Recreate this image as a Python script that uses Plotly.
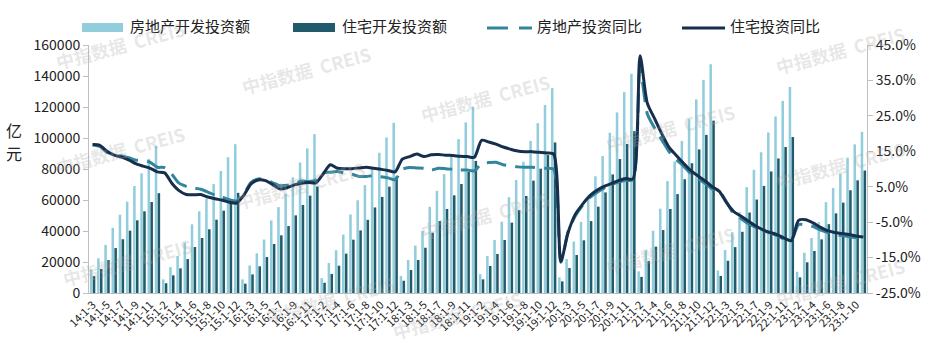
import plotly.graph_objects as go

# ---- data -------------------------------------------------------------
years = [14, 15, 16, 17, 18, 19, 20, 21, 22, 23]
first_month = {14: 3}          # 2014 series starts with Jan-Mar
last_month = {23: 11}          # 2023 series ends with Jan-Nov

categories = []
for yy in years:
    for m in range(first_month.get(yy, 2), last_month.get(yy, 12) + 1):
        categories.append(f"{yy}:1-{m}")

# 房地产开发投资额 (亿元), cumulative year-to-date
re_invest = [
    15300, 22400, 31000, 42100, 50500, 58900, 69000, 77200, 86500, 94900,
    8800, 16700, 23900, 32500, 44300, 52700, 60800, 70300, 78700, 87600, 96000,
    8800, 17800, 25600, 34500, 46800, 55400, 64200, 74600, 84200, 93300, 102500,
    9600, 19400, 27600, 37700, 50700, 59800, 69600, 80600, 90500, 100400, 109800,
    11000, 21300, 30600, 40000, 55600, 65900, 76700, 88700, 99300, 110100, 120200,
    12100, 23800, 34200, 46000, 61800, 72900, 84700, 98100, 109600, 121300, 132200,
    10100, 21900, 33200, 45900, 62000, 75300, 88400, 103400, 116500, 129600, 141400,
    14000, 27600, 40200, 54400, 72200, 84900, 98100, 112200, 124900, 137500, 147600,
    14500, 27800, 39200, 52100, 68300, 79500, 90800, 103600, 113900, 123900, 132900,
    13700, 26000, 35500, 45700, 58600, 67700, 76900, 87300, 95900, 104000,
]

# 住宅开发投资额 (亿元)
res_invest = [
    10900, 15500, 21300, 29000, 34700, 40200, 46900, 52700, 58700, 64400,
    6300, 11400, 15900, 21900, 29700, 35500, 41100, 47300, 53100, 58900, 64600,
    6000, 12000, 17200, 23200, 31600, 37200, 43200, 50100, 56800, 62800, 68700,
    6600, 12300, 17600, 25400, 34400, 40400, 47200, 55200, 62000, 68600, 75100,
    7900, 14800, 21300, 29200, 38900, 46400, 54200, 63000, 70300, 78100, 85200,
    8800, 17400, 25200, 34200, 45400, 53500, 62600, 72500, 80200, 89000, 97100,
    7500, 16100, 24500, 34000, 46400, 55700, 64900, 76500, 86400, 96100, 104400,
    10400, 20600, 29900, 40600, 54200, 63800, 73400, 83700, 92600, 102000, 111200,
    11000, 20800, 29600, 39500, 51900, 60300, 69100, 78400, 86800, 94200, 100600,
    10100, 19800, 27100, 34600, 44400, 51400, 58300, 66300, 72700, 79000,
]

# 房地产投资同比 (%)
re_yoy = [
    16.8, 16.4, 14.7, 14.1, 13.7, 13.2, 12.5, 12.4, 11.9, 10.5,
    10.4, 8.5, 6.0, 5.1, 4.6, 4.3, 3.5, 2.6, 2.0, 1.3, 1.0,
    3.0, 6.2, 7.2, 7.0, 6.1, 5.3, 5.4, 5.8, 6.6, 6.5, 6.9,
    8.9, 9.1, 9.3, 8.8, 8.5, 7.9, 7.9, 8.1, 7.8, 7.5, 7.0,
    9.9, 10.4, 10.3, 10.2, 9.7, 10.2, 10.1, 9.9, 9.7, 9.7, 9.5,
    11.6, 11.8, 11.9, 11.2, 10.9, 10.6, 10.5, 10.5, 10.3, 10.2, 9.9,
    -16.3, -7.7, -3.3, -0.3, 1.9, 3.4, 4.6, 5.6, 6.3, 6.8, 7.0,
    38.3, 25.6, 21.6, 18.3, 15.0, 12.7, 10.9, 8.8, 7.2, 6.0, 4.4,
    3.7, 0.7, -2.7, -4.0, -5.4, -6.4, -7.4, -8.0, -8.8, -9.8, -10.0,
    -5.7, -5.8, -6.2, -7.2, -7.9, -8.5, -8.8, -9.1, -9.3, -9.4,
]

# 住宅投资同比 (%)
res_yoy = [
    16.9, 16.7, 15.0, 13.9, 13.4, 12.6, 11.5, 10.8, 10.2, 9.2,
    8.9, 6.0, 3.9, 2.8, 2.7, 2.8, 2.1, 1.6, 1.2, 0.6, 0.4,
    2.6, 5.8, 6.9, 6.7, 5.6, 4.4, 4.7, 5.5, 6.0, 6.2, 6.1,
    8.6, 11.2, 10.2, 10.1, 10.1, 10.3, 10.5, 10.2, 9.9, 9.6, 9.2,
    12.8, 13.5, 14.2, 13.5, 14.0, 14.1, 13.9, 13.8, 13.6, 13.5, 13.3,
    18.1, 17.6, 17.0, 16.2, 15.6, 15.1, 14.9, 14.9, 14.7, 14.5, 14.2,
    -16.1, -8.0, -2.8, 0.0, 2.4, 4.0, 5.1, 5.9, 6.7, 7.3, 7.2,
    42.0, 28.6, 24.3, 20.0, 16.2, 13.9, 11.7, 9.6, 8.1, 6.7, 5.0,
    3.7, 0.5, -2.0, -3.3, -4.7, -6.0, -7.1, -7.9, -8.5, -9.5, -10.2,
    -4.5, -4.3, -5.2, -6.4, -7.4, -7.9, -8.2, -8.5, -8.9, -9.2,
]

series_names = ["房地产开发投资额", "住宅开发投资额", "房地产投资同比", "住宅投资同比"]
left_ticks = list(range(0, 160001, 20000))
right_ticks = [-25, -15, -5, 5, 15, 25, 35, 45]
right_labels = [f"{v:.1f}%" for v in right_ticks]

# ---- styling ----------------------------------------------------------
C_LIGHT = "#92CDDC"
C_DARK = "#215A6A"
C_DASH = "#31859C"
C_SOLID = "#172E4C"
FONT = "Noto Sans CJK SC"
W, H = 937, 348
L, R, T, B = 89, 867, 45, 293          # plot area in pixels


def px(x):
    return (x - L) / (R - L)


def py(y):
    return (B - y) / (B - T)


fig = go.Figure()
fig.add_bar(x=categories, y=re_invest, name=series_names[0],
            marker=dict(color=C_LIGHT, line=dict(width=0)))
fig.add_bar(x=categories, y=res_invest, name=series_names[1],
            marker=dict(color=C_DARK, line=dict(width=0)))
fig.add_scatter(x=categories, y=re_yoy, name=series_names[2], yaxis="y2",
                mode="lines",
                line=dict(color=C_DASH, width=3, dash="20px,9px",
                          shape="spline", smoothing=0.7))
fig.add_scatter(x=categories, y=res_yoy, name=series_names[3], yaxis="y2",
                mode="lines",
                line=dict(color=C_SOLID, width=3,
                          shape="spline", smoothing=0.7))

axis_font = dict(family=FONT, size=14, color="#222")

fig.update_layout(
    width=W, height=H,
    margin=dict(l=L, r=W - R, t=T, b=H - B),
    paper_bgcolor="white", plot_bgcolor="white",
    showlegend=False,
    barmode="group", bargap=0.2, bargroupgap=0.12,
    font=dict(family=FONT, color="#222"),
    xaxis=dict(
        type="category",
        tickvals=categories[::2], ticktext=categories[::2],
        tickangle=-45, tickfont=dict(family=FONT, size=11, color="#222"),
        showline=True, linecolor="#BFBFBF", linewidth=1,
        ticks="", showgrid=False, zeroline=False,
    ),
    yaxis=dict(
        range=[0, 160000], tickvals=left_ticks, tickformat="d",
        tickfont=axis_font, showgrid=False, zeroline=False,
        showline=True, linecolor="#BFBFBF", linewidth=1,
        ticks="outside", ticklen=5, tickcolor="#BFBFBF",
    ),
    yaxis2=dict(
        overlaying="y", side="right",
        range=[-25, 45], tickvals=right_ticks, ticktext=right_labels,
        tickfont=axis_font, showgrid=False, zeroline=False,
        showline=True, linecolor="#BFBFBF", linewidth=1,
        ticks="outside", ticklen=5, tickcolor="#BFBFBF",
    ),
)

annotations = []
shapes = []

# unit label on the left axis, one character per line
for ch, y_pix in (("亿", 130), ("元", 153)):
    annotations.append(dict(
        xref="paper", yref="paper", x=px(14), y=py(y_pix),
        text=ch, showarrow=False, xanchor="center", yanchor="middle",
        font=dict(family=FONT, size=16, color="#222"),
        borderpad=0,
    ))

# legend row drawn across the top
leg_y = 27
leg_font = dict(family=FONT, size=15, color="#222")
shapes.append(dict(type="rect", xref="paper", yref="paper",
                   x0=px(82), x1=px(123), y0=py(32), y1=py(23),
                   fillcolor=C_LIGHT, line=dict(width=0)))
shapes.append(dict(type="rect", xref="paper", yref="paper",
                   x0=px(293), x1=px(335), y0=py(32), y1=py(23),
                   fillcolor=C_DARK, line=dict(width=0)))
shapes.append(dict(type="line", xref="paper", yref="paper",
                   x0=px(487), x1=px(508), y0=py(leg_y + 1), y1=py(leg_y + 1),
                   line=dict(color=C_DASH, width=3)))
shapes.append(dict(type="line", xref="paper", yref="paper",
                   x0=px(519), x1=px(532), y0=py(leg_y + 1), y1=py(leg_y + 1),
                   line=dict(color=C_DASH, width=3)))
shapes.append(dict(type="line", xref="paper", yref="paper",
                   x0=px(682), x1=px(725), y0=py(leg_y + 1), y1=py(leg_y + 1),
                   line=dict(color=C_SOLID, width=3)))
for name, x_left in zip(series_names, [128, 340, 535, 728]):
    annotations.append(dict(
        xref="paper", yref="paper", x=px(x_left), y=py(leg_y - 1),
        text=name, showarrow=False, xanchor="left", yanchor="middle",
        font=leg_font,
    ))

# faint brand watermark tiled over the chart
wm_centres = [(120, 45), (120, 150), (127, 262),
              (306, 70), (300, 185), (330, 300),
              (485, 98), (485, 215), (457, 315),
              (670, 128), (670, 250),
              (840, 50), (840, 165), (840, 282)]
for cx, cy in wm_centres:
    annotations.append(dict(
        xref="paper", yref="paper", x=px(cx), y=py(cy),
        text="<b>中指数据  CREIS</b>", showarrow=False,
        xanchor="center", yanchor="middle", textangle=-15,
        font=dict(family=FONT, size=18, color="rgba(170,170,170,0.28)"),
    ))

fig.update_layout(annotations=annotations, shapes=shapes)
fig.write_html("out.html")
